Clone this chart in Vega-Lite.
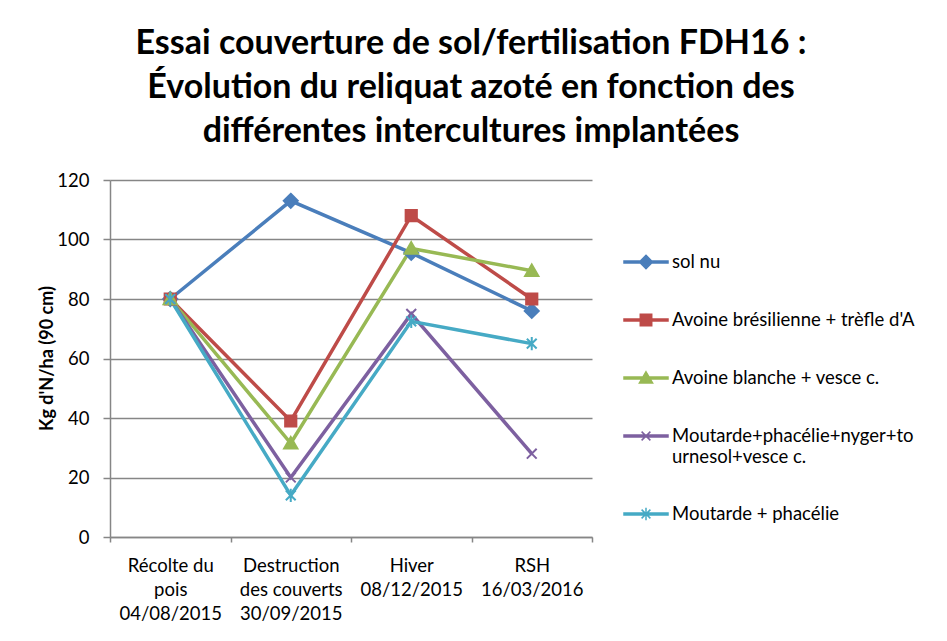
{
  "$schema": "https://vega.github.io/schema/vega-lite/v6.json",
  "autosize": {"type": "none"},
  "padding": {"left": 110, "top": 180, "right": 355, "bottom": 104},
  "width": 482,
  "height": 357,
  "background": "white",
  "config": {
    "view": {"stroke": null},
    "font": "Lato",
    "axis": {"labelFont": "Lato", "titleFont": "Lato", "labelColor": "#000000", "titleColor": "#000000", "domainColor": "#868686", "tickColor": "#868686", "gridColor": "#868686", "domainWidth": 1.5, "tickWidth": 1.5, "gridWidth": 1.3}
  },
  "title": {
    "text": ["Essai couverture de sol/fertilisation FDH16 :", "Évolution du reliquat azoté en fonction des", "différentes intercultures implantées"],
    "font": "Lato",
    "fontSize": 34,
    "fontWeight": "bold",
    "color": "#000000",
    "lineHeight": 44,
    "anchor": "middle",
    "dx": 120,
    "offset": 22
  },
  "data": {
    "values": [
      {"periode": "Récolte du pois 04/08/2015", "serie": "sol nu", "valeur": 80},
      {"periode": "Destruction des couverts 30/09/2015", "serie": "sol nu", "valeur": 113},
      {"periode": "Hiver 08/12/2015", "serie": "sol nu", "valeur": 95.5},
      {"periode": "RSH 16/03/2016", "serie": "sol nu", "valeur": 76},
      {"periode": "Récolte du pois 04/08/2015", "serie": "Avoine brésilienne + trèfle d'A", "valeur": 80},
      {"periode": "Destruction des couverts 30/09/2015", "serie": "Avoine brésilienne + trèfle d'A", "valeur": 39},
      {"periode": "Hiver 08/12/2015", "serie": "Avoine brésilienne + trèfle d'A", "valeur": 108},
      {"periode": "RSH 16/03/2016", "serie": "Avoine brésilienne + trèfle d'A", "valeur": 80},
      {"periode": "Récolte du pois 04/08/2015", "serie": "Avoine blanche + vesce c.", "valeur": 80},
      {"periode": "Destruction des couverts 30/09/2015", "serie": "Avoine blanche + vesce c.", "valeur": 31.5},
      {"periode": "Hiver 08/12/2015", "serie": "Avoine blanche + vesce c.", "valeur": 97},
      {"periode": "RSH 16/03/2016", "serie": "Avoine blanche + vesce c.", "valeur": 89.5},
      {"periode": "Récolte du pois 04/08/2015", "serie": "Moutarde+phacélie+nyger+tournesol+vesce c.", "valeur": 80},
      {"periode": "Destruction des couverts 30/09/2015", "serie": "Moutarde+phacélie+nyger+tournesol+vesce c.", "valeur": 20},
      {"periode": "Hiver 08/12/2015", "serie": "Moutarde+phacélie+nyger+tournesol+vesce c.", "valeur": 75},
      {"periode": "RSH 16/03/2016", "serie": "Moutarde+phacélie+nyger+tournesol+vesce c.", "valeur": 28},
      {"periode": "Récolte du pois 04/08/2015", "serie": "Moutarde + phacélie", "valeur": 80},
      {"periode": "Destruction des couverts 30/09/2015", "serie": "Moutarde + phacélie", "valeur": 14},
      {"periode": "Hiver 08/12/2015", "serie": "Moutarde + phacélie", "valeur": 72.5},
      {"periode": "RSH 16/03/2016", "serie": "Moutarde + phacélie", "valeur": 65}
    ]
  },
  "encoding": {
    "x": {
      "field": "periode",
      "type": "nominal",
      "sort": ["Récolte du pois 04/08/2015", "Destruction des couverts 30/09/2015", "Hiver 08/12/2015", "RSH 16/03/2016"],
      "scale": {"type": "band", "paddingInner": 0, "paddingOuter": 0},
      "axis": {
        "title": null,
        "labelAngle": 0,
        "labelFontSize": 18.5,
        "labelLineHeight": 24,
        "labelBaseline": "top",
        "labelPadding": 14,
        "tickSize": 5,
        "tickBand": "extent",
        "tickExtra": true,
        "labelLimit": 200,
        "labelExpr": "{'Récolte du pois 04/08/2015': ['Récolte du', 'pois', '04/08/2015'], 'Destruction des couverts 30/09/2015': ['Destruction', 'des couverts', '30/09/2015'], 'Hiver 08/12/2015': ['Hiver', '08/12/2015'], 'RSH 16/03/2016': ['RSH', '16/03/2016']}[datum.value]"
      }
    },
    "y": {
      "field": "valeur",
      "type": "quantitative",
      "scale": {"domain": [0, 120], "nice": false},
      "axis": {
        "title": "Kg d'N/ha (90 cm)",
        "titleFontSize": 18,
        "titleFontWeight": "bold",
        "titleX": -63,
        "titleY": 178,
        "titleAngle": -90,
        "titleAlign": "center",
        "titleBaseline": "middle",
        "values": [0, 20, 40, 60, 80, 100, 120],
        "labelFontSize": 18.5,
        "labelPadding": 14,
        "tickSize": 7,
        "grid": true
      }
    }
  },
  "layer": [
    {
      "mark": {"type": "line", "strokeWidth": 3.5},
      "encoding": {
        "color": {
          "field": "serie",
          "type": "nominal",
          "scale": {"domain": ["sol nu", "Avoine brésilienne + trèfle d'A", "Avoine blanche + vesce c.", "Moutarde+phacélie+nyger+tournesol+vesce c.", "Moutarde + phacélie"], "range": ["#4A7EBB", "#BE4B48", "#98B954", "#7D60A0", "#46AAC5"]},
          "legend": null
        }
      }
    },
    {
      "mark": {"type": "point", "filled": true, "size": 196, "strokeWidth": 2, "opacity": 1},
      "encoding": {
        "color": {
          "field": "serie",
          "type": "nominal",
          "scale": {"domain": ["sol nu", "Avoine brésilienne + trèfle d'A", "Avoine blanche + vesce c.", "Moutarde+phacélie+nyger+tournesol+vesce c.", "Moutarde + phacélie"], "range": ["#4A7EBB", "#BE4B48", "#98B954", "#7D60A0", "#46AAC5"]},
          "legend": null
        },
        "stroke": {
          "field": "serie",
          "type": "nominal",
          "scale": {"domain": ["sol nu", "Avoine brésilienne + trèfle d'A", "Avoine blanche + vesce c.", "Moutarde+phacélie+nyger+tournesol+vesce c.", "Moutarde + phacélie"], "range": ["#4A7EBB", "#BE4B48", "#98B954", "#7D60A0", "#46AAC5"]},
          "legend": null
        },
        "shape": {
          "field": "serie",
          "type": "nominal",
          "scale": {"domain": ["sol nu", "Avoine brésilienne + trèfle d'A", "Avoine blanche + vesce c.", "Moutarde+phacélie+nyger+tournesol+vesce c.", "Moutarde + phacélie"], "range": ["M0,-1L1,0L0,1L-1,0Z", "M-0.8,-0.8L0.8,-0.8L0.8,0.8L-0.8,0.8Z", "M0,-0.9L0.95,0.75L-0.95,0.75Z", "M-0.7,-0.7L0.7,0.7M-0.7,0.7L0.7,-0.7", "M-0.7,-0.7L0.7,0.7M-0.7,0.7L0.7,-0.7M0,-0.95L0,0.95"]},
          "legend": null
        }
      }
    },
    {
      "transform": [{"filter": "datum.valeur < 0"}],
      "mark": {"type": "point", "filled": true, "size": 1936, "strokeWidth": 1.5, "opacity": 1},
      "encoding": {
        "color": {
          "field": "serie",
          "type": "nominal",
          "scale": {"domain": ["sol nu", "Avoine brésilienne + trèfle d'A", "Avoine blanche + vesce c.", "Moutarde+phacélie+nyger+tournesol+vesce c.", "Moutarde + phacélie"], "range": ["#4A7EBB", "#BE4B48", "#98B954", "#7D60A0", "#46AAC5"]},
          "legend": {
            "title": null,
            "orient": "none",
            "legendX": 513,
            "legendY": 59,
            "padding": 0,
            "labelFont": "Lato",
            "labelFontSize": 18.5,
            "labelColor": "#000000",
            "labelLimit": 400,
            "labelOffset": 3,
            "labelLineHeight": 19,
            "rowPadding": 25,
            "symbolSize": 1936,
            "symbolOpacity": 1,
            "symbolStrokeWidth": 1.5,
            "labelExpr": "datum.label == 'Moutarde+phacélie+nyger+tournesol+vesce c.' ? ['Moutarde+phacélie+nyger+to', 'urnesol+vesce c.'] : datum.label"
          }
        },
        "stroke": {
          "field": "serie",
          "type": "nominal",
          "scale": {"domain": ["sol nu", "Avoine brésilienne + trèfle d'A", "Avoine blanche + vesce c.", "Moutarde+phacélie+nyger+tournesol+vesce c.", "Moutarde + phacélie"], "range": ["#4A7EBB", "#BE4B48", "#98B954", "#7D60A0", "#46AAC5"]}
        },
        "shape": {
          "field": "serie",
          "type": "nominal",
          "scale": {"domain": ["sol nu", "Avoine brésilienne + trèfle d'A", "Avoine blanche + vesce c.", "Moutarde+phacélie+nyger+tournesol+vesce c.", "Moutarde + phacélie"], "range": ["M-1,-0.05L1,-0.05L1,0.05L-1,0.05ZM0,-0.3L0.3,0L0,0.3L-0.3,0Z", "M-1,-0.05L1,-0.05L1,0.05L-1,0.05ZM-0.26,-0.26L0.26,-0.26L0.26,0.26L-0.26,0.26Z", "M-1,-0.05L1,-0.05L1,0.05L-1,0.05ZM0,-0.28L0.3,0.23L-0.3,0.23Z", "M-1,-0.05L1,-0.05L1,0.05L-1,0.05ZM-0.2,-0.2L0.2,0.2M-0.2,0.2L0.2,-0.2", "M-1,-0.05L1,-0.05L1,0.05L-1,0.05ZM-0.2,-0.2L0.2,0.2M-0.2,0.2L0.2,-0.2M0,-0.28L0,0.28"]}
        }
      }
    }
  ],
  "resolve": {
    "scale": {"color": "independent", "shape": "independent", "stroke": "independent"},
    "legend": {"color": "independent", "shape": "independent", "stroke": "independent"}
  }
}
